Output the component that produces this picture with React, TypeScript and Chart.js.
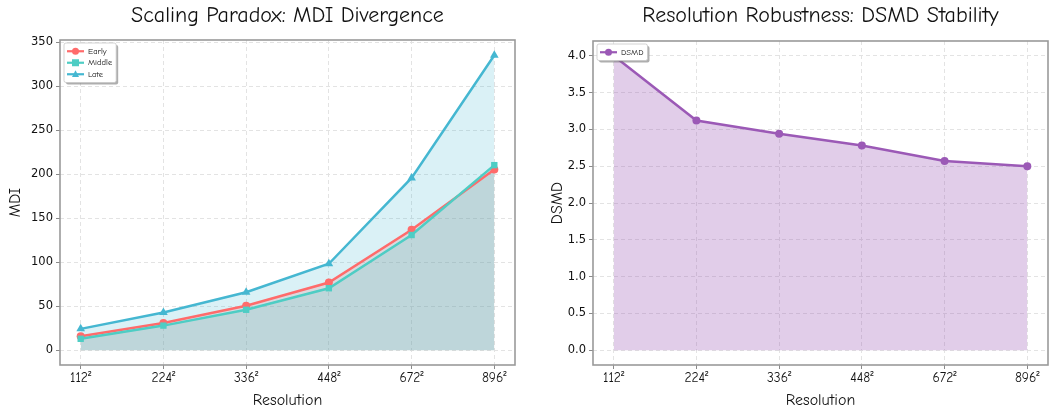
import React, { useEffect, useRef } from "react";
import { Chart, registerables } from "chart.js";

Chart.register(...registerables);

const categories = ["112²", "224²", "336²", "448²", "672²", "896²"];
const earlyValues = [16, 31, 50.5, 77, 137, 205.5];
const middleValues = [13, 28, 46, 70.5, 131, 210.5];
const lateValues = [24.3, 43, 66, 98.3, 196, 335.5];
const dsmdValues = [4.0, 3.12, 2.94, 2.78, 2.57, 2.5];
const mdiTicks = [0, 50, 100, 150, 200, 250, 300, 350];
const dsmdTicks = [0, 0.5, 1, 1.5, 2, 2.5, 3, 3.5, 4];

const COMIC = '"Comic Sans MS", "Comic Neue", "Lato", sans-serif';
const TICKFONT = '"DejaVu Sans", sans-serif';

const toPoints = (vals: number[]) => vals.map((v, i) => ({ x: i, y: v }));

function drawMarker(ctx: CanvasRenderingContext2D, style: string, x: number, y: number, r: number, color: string) {
  ctx.save();
  ctx.fillStyle = color;
  ctx.beginPath();
  if (style === "rect") {
    ctx.rect(x - r, y - r, 2 * r, 2 * r);
  } else if (style === "triangle") {
    ctx.moveTo(x, y - r * 1.15);
    ctx.lineTo(x + r, y + r * 0.75);
    ctx.lineTo(x - r, y + r * 0.75);
    ctx.closePath();
  } else {
    ctx.arc(x, y, r, 0, Math.PI * 2);
  }
  ctx.fill();
  ctx.restore();
}

const decorPlugin = {
  id: "decor",
  afterDatasetsDraw(chart: any, _args: any, opts: any) {
    const { ctx, chartArea } = chart;
    const { left, right, top, bottom } = chartArea;
    ctx.save();
    // frame
    ctx.strokeStyle = "#9a9a9a";
    ctx.lineWidth = 1.6;
    ctx.strokeRect(left, top, right - left, bottom - top);
    // title
    ctx.fillStyle = "#111";
    ctx.textAlign = "center";
    ctx.textBaseline = "middle";
    ctx.font = `22px ${COMIC}`;
    ctx.fillText(opts.title, (left + right) / 2, 16);
    // x title
    ctx.font = `16px ${COMIC}`;
    ctx.fillText(opts.xTitle, (left + right) / 2, 400);
    // y title
    ctx.save();
    ctx.translate(opts.yTitleX, (top + bottom) / 2);
    ctx.rotate(-Math.PI / 2);
    ctx.fillText(opts.yTitle, 0, 0);
    ctx.restore();

    // legend
    const ds = chart.data.datasets;
    const bx = left + 4;
    const by = top + 3;
    const rowH = 11.5;
    ctx.font = `8.5px ${COMIC}`;
    let maxW = 0;
    ds.forEach((d: any) => (maxW = Math.max(maxW, ctx.measureText(d.label).width)));
    const bw = 28 + maxW;
    const bh = ds.length * rowH + 5;
    const rr = 2;
    const roundRect = (x: number, y: number, w: number, h: number) => {
      ctx.beginPath();
      ctx.moveTo(x + rr, y);
      ctx.lineTo(x + w - rr, y);
      ctx.quadraticCurveTo(x + w, y, x + w, y + rr);
      ctx.lineTo(x + w, y + h - rr);
      ctx.quadraticCurveTo(x + w, y + h, x + w - rr, y + h);
      ctx.lineTo(x + rr, y + h);
      ctx.quadraticCurveTo(x, y + h, x, y + h - rr);
      ctx.lineTo(x, y + rr);
      ctx.quadraticCurveTo(x, y, x + rr, y);
      ctx.closePath();
    };
    ctx.fillStyle = "rgba(120,120,120,0.6)";
    roundRect(bx + 2, by + 2, bw, bh);
    ctx.fill();
    ctx.fillStyle = "#fff";
    roundRect(bx, by, bw, bh);
    ctx.fill();
    ctx.strokeStyle = "#c8c8c8";
    ctx.lineWidth = 0.8;
    ctx.stroke();
    ds.forEach((d: any, i: number) => {
      const cy = by + 2.5 + rowH * i + rowH / 2;
      ctx.strokeStyle = d.borderColor;
      ctx.lineWidth = 2.2;
      ctx.beginPath();
      ctx.moveTo(bx + 3, cy);
      ctx.lineTo(bx + 20, cy);
      ctx.stroke();
      drawMarker(ctx, d.pointStyle, bx + 11.5, cy, 3.5, d.borderColor);
      ctx.fillStyle = "#111";
      ctx.textAlign = "left";
      ctx.textBaseline = "middle";
      ctx.fillText(d.label, bx + 24, cy);
    });
    ctx.restore();
  },
};

function makeDataset(label: string, vals: number[], color: string, fill: string, style: string, order: number, radius: number) {
  return {
    label,
    data: toPoints(vals),
    borderColor: color,
    backgroundColor: fill,
    pointBackgroundColor: color,
    pointBorderColor: color,
    pointBorderWidth: 0,
    pointStyle: style,
    pointRadius: radius,
    borderWidth: 2.5,
    fill: "origin",
    tension: 0,
    order,
  };
}

function makeOptions(o: any) {
  return {
    responsive: false,
    animation: false,
    devicePixelRatio: 1,
    layout: { padding: { left: 0, right: o.padRight, top: o.padTop, bottom: 0 } },
    plugins: {
      legend: { display: false },
      title: { display: false },
      tooltip: { enabled: false },
      filler: { drawTime: "beforeDatasetsDraw" },
      decor: { title: o.title, xTitle: "Resolution", yTitle: o.yTitle, yTitleX: o.yTitleX },
    },
    scales: {
      x: {
        type: "linear",
        min: -0.25,
        max: 5.25,
        afterBuildTicks: (scale: any) => {
          scale.ticks = categories.map((_, i) => ({ value: i }));
        },
        afterFit: (scale: any) => {
          scale.height = 408 - 365;
        },
        ticks: {
          callback: (v: number) => categories[v] ?? "",
          font: { family: COMIC, size: 13.5 },
          color: "#111",
          padding: 1,
          maxRotation: 0,
          autoSkip: false,
        },
        grid: { color: "#e3e3e3", tickColor: "#8a8a8a", tickLength: 4, lineWidth: 1 },
        border: { display: false, dash: [4, 3] },
      },
      y: {
        type: "linear",
        min: o.yMin,
        max: o.yMax,
        afterBuildTicks: (scale: any) => {
          scale.ticks = o.yTicks.map((v: number) => ({ value: v }));
        },
        afterFit: (scale: any) => {
          scale.width = o.yWidth;
        },
        ticks: {
          callback: o.yFmt,
          font: { family: TICKFONT, size: 11.5 },
          color: "#111",
          padding: 3,
        },
        grid: { color: "#e3e3e3", tickColor: "#8a8a8a", tickLength: 4, lineWidth: 1 },
        border: { display: false, dash: [4, 3] },
      },
    },
  };
}

function ChartPanel({ config, left }: { config: any; left: number }) {
  const ref = useRef<HTMLCanvasElement | null>(null);
  useEffect(() => {
    if (!ref.current) return;
    const chart = new Chart(ref.current, { ...config, plugins: [decorPlugin] });
    return () => chart.destroy();
  }, [config]);
  return (
    <canvas
      ref={ref}
      width={526}
      height={408}
      style={{ position: "absolute", left, top: 0, width: 526, height: 408 }}
    />
  );
}

const leftConfig = {
  type: "line",
  data: {
    datasets: [
      makeDataset("Early", earlyValues, "#FF6B6B", "rgba(255,107,107,0.2)", "circle", 3, 4),
      makeDataset("Middle", middleValues, "#4ECDC4", "rgba(78,205,196,0.2)", "rect", 2, 4.5),
      makeDataset("Late", lateValues, "#45B7D1", "rgba(69,183,209,0.2)", "triangle", 1, 5),
    ],
  },
  options: makeOptions({
    title: "Scaling Paradox: MDI Divergence",
    yTitle: "MDI",
    yTitleX: 15,
    padRight: 11,
    padTop: 40,
    yMin: -16.8,
    yMax: 352.8,
    yTicks: mdiTicks,
    yWidth: 60,
    yFmt: (v: number) => String(v),
  }),
};

const rightConfig = {
  type: "line",
  data: {
    datasets: [makeDataset("DSMD", dsmdValues, "#9B59B6", "rgba(155,89,182,0.3)", "circle", 1, 4)],
  },
  options: makeOptions({
    title: "Resolution Robustness: DSMD Stability",
    yTitle: "DSMD",
    yTitleX: 31,
    padRight: 3,
    padTop: 41,
    yMin: -0.2,
    yMax: 4.2,
    yTicks: dsmdTicks,
    yWidth: 67,
    yFmt: (v: number) => v.toFixed(1),
  }),
};

export default function App() {
  return (
    <div style={{ position: "absolute", left: 0, top: 0, width: 1052, height: 408, background: "#fff", overflow: "hidden" }}>
      <ChartPanel config={leftConfig} left={0} />
      <ChartPanel config={rightConfig} left={526} />
    </div>
  );
}
